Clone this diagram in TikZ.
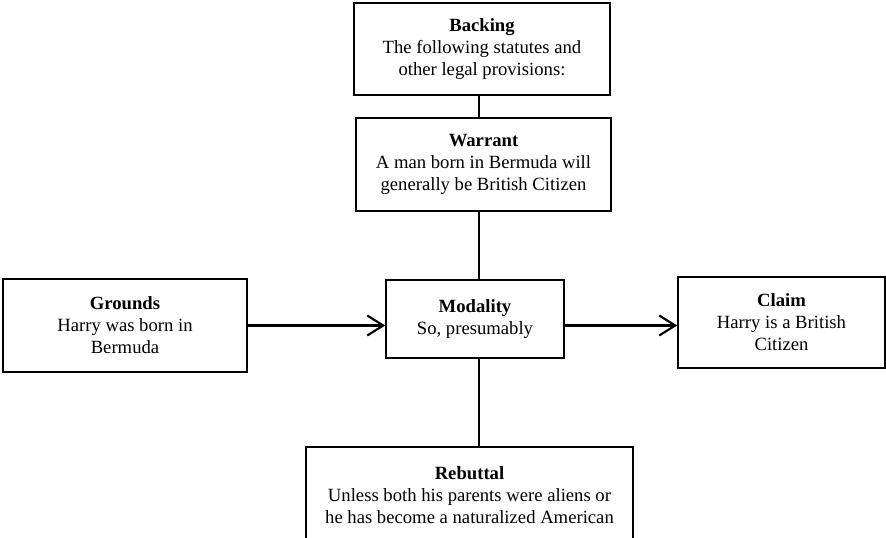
\documentclass[tikz,border=0pt]{standalone}
\usepackage{fontspec}
\setmainfont{Liberation Serif}
\usepackage{tikz}
\usetikzlibrary{positioning,calc,arrows.meta}

\begin{document}
\begin{tikzpicture}[x=0.75pt,y=-0.75pt,
                part/.style={draw=black,line width=1.1pt,fill=white,align=center,
                            inner sep=0pt,font=\fontsize{14}{16.5}\selectfont},
                link/.style={line width=1.1pt},
                push/.style={line width=1.6pt,-{Straight Barb[length=12pt,width=15pt,line width=1.6pt]}}
            ]
                \clip (0,0) rectangle (886,537);
                \node[part,minimum width=192pt,minimum height=69pt] (backing) at (482,49)
                    {\textbf{Backing}\\The following statutes and\\other legal provisions:};
                \node[part,minimum width=191.25pt,minimum height=69.75pt] (warrant) at (483.5,164.5)
                    {\textbf{Warrant}\\A man born in Bermuda will\\generally be British Citizen};
                \node[part,minimum width=183pt,minimum height=69.75pt] (grounds) at (125,325.5)
                    {\textbf{Grounds}\\Harry was born in\\Bermuda};
                \node[part,minimum width=133.5pt,minimum height=58.5pt] (modality) at (475,319)
                    {\textbf{Modality}\\So, presumably};
                \node[part,minimum width=155.25pt,minimum height=68.25pt] (claim) at (781.5,322.5)
                    {\textbf{Claim}\\Harry is a British\\Citizen};
                \node[part,minimum width=245.25pt,minimum height=72pt] (rebuttal) at (469.5,495)
                    {\textbf{Rebuttal}\\Unless both his parents were aliens or\\he has become a naturalized American};
                \coordinate (spine) at (479,0);
                \draw[link] (backing.south -| spine) -- (warrant.north -| spine);
                \draw[link] (warrant.south -| spine) -- (modality.north -| spine);
                \draw[link] (modality.south -| spine) -- (rebuttal.north -| spine);
                \draw[push] (grounds.east) -- (grounds.east -| modality.west);
                \draw[push] (grounds.east -| modality.east) -- (grounds.east -| claim.west);
            \end{tikzpicture}
\end{document}
